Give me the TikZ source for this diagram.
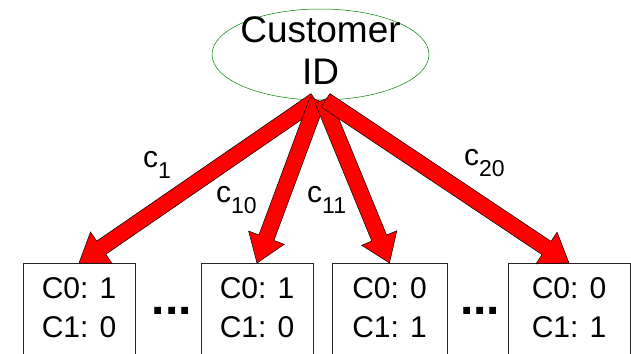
\documentclass[tikz,border=0pt]{standalone}
\usepackage{fontspec}
\setmainfont{Liberation Sans}
\usetikzlibrary{positioning}
\usetikzlibrary{calc}
\usetikzlibrary{shapes.geometric}

\tikzset{
  cust/.style={ellipse, draw=green!50!black, line width=0.5pt, minimum width=217pt, minimum height=91pt, inner sep=0pt},
  idtext/.style={font=\fontsize{37}{42}\selectfont, align=center, inner sep=0pt},
  box/.style={draw=black!85, line width=0.6pt, rectangle, minimum width=112pt, minimum height=110pt, anchor=north, inner sep=0pt},
  cell/.style={font=\fontsize{30}{39}\selectfont, align=center, inner sep=0pt},
  dots/.style={font=\fontsize{48}{48}\selectfont\bfseries, inner sep=0pt},
  lab/.style={font=\fontsize{30}{30}\selectfont, inner sep=0pt, anchor=base west},
  fat/.style={fill=red, draw=black, line width=0.5pt, line join=miter},
}
\newcommand{\sub}[1]{{\fontsize{23}{23}\selectfont\raisebox{-11pt}{#1}}}
\newcommand{\fatarrow}[2]{%
  \path[fat] let \p1=($(#2)-(#1)$), \n1={atan2(\y1,\x1)}, \n2={veclen(\x1,\y1)} in
    [shift={(#1)}, rotate=\n1] (0pt,-8pt) -- (\n2-27pt,-8pt) -- (\n2-27pt,-19pt) -- (\n2,0pt)
    -- (\n2-27pt,19pt) -- (\n2-27pt,8pt) -- (0pt,8pt) -- cycle;}

\begin{document}
\begin{tikzpicture}[x=1pt, y=-1pt]
        \useasboundingbox (0,0) rectangle (631,353);
        \node[cust, label={[idtext, yshift=3.75pt]center:{Customer\\ID}}] (cid) at (320.5,54.5) {};
        \node[box] (b1) at (79,263) {};
        \node[box] (b2) at (257,263) {};
        \node[box, minimum width=115pt] (b3) at (389.5,263) {};
        \node[box, minimum width=122pt] (b4) at (569,263) {};
        \node[cell, below=14pt of b1.north] (t1) {C0: 1\\C1: 0};
        \node[cell, below=14pt of b2.north] (t2) {C0: 1\\C1: 0};
        \node[cell, below=14pt of b3.north] (t3) {C0: 0\\C1: 1};
        \node[cell, below=14pt of b4.north] (t4) {C0: 0\\C1: 1};
        \node[dots] (d1) at (172,311) {...};
        \node[dots] (d2) at (480,311) {...};
        \foreach \b/\dx in {b1/-5, b2/-3, b3/2, b4/5}{
            \fatarrow{[xshift=\dx pt]cid.south}{\b.north}
          }
        \node[lab] (l1) at (143,167) {c\sub{1}};
        \node[lab] (l10) at (216,202) {c\sub{10}};
        \node[lab] (l11) at (307,202) {c\sub{11}};
        \node[lab] (l20) at (464,165) {c\sub{20}};
      \end{tikzpicture}
\end{document}
